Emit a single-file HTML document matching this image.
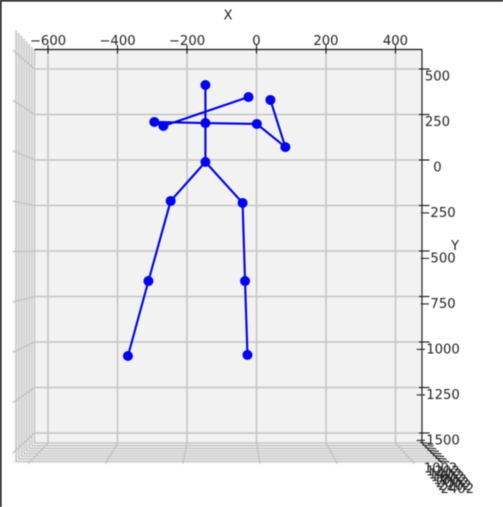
<!DOCTYPE html>
<html lang="en">
<head>
<meta charset="utf-8">
<title>3D skeleton pose chart</title>
<style>
html,body{margin:0;padding:0;background:#fff;width:503px;height:507px;overflow:hidden}
svg{display:block;filter:blur(0.45px)}
text{font-family:"DejaVu Sans","Liberation Sans",sans-serif;font-size:13.2px;fill:#222}
</style>
</head>
<body>
<svg id="chart" width="503" height="507" viewBox="0 0 503 507" xmlns="http://www.w3.org/2000/svg">
  <rect x="0" y="0" width="503" height="507" fill="#ffffff"/>
  <rect x="0" y="0" width="503" height="1.5" fill="#000"/>
  <rect x="0" y="0" width="1.5" height="507" fill="#000"/>
  <polygon points="34,50 14,29 13,464 34,443" fill="#f7f7f7"/>
  <polygon points="34,443 422,443 443,464 13,464" fill="#f6f6f6"/>
  <rect x="34" y="50" width="388" height="393" fill="#f2f2f2"/>
  <text x="228" y="19.5" text-anchor="middle">X</text>
  <text x="455" y="250" text-anchor="middle">Y</text>
  <g id="grid"></g>
  <g id="axes"></g>
  <g id="bones"></g>
  <g id="joints"></g>
</svg>
<script>
const xTicks = [-600, -400, -200, 0, 200, 400];
const yTicks = [500, 250, 0, -250, -500, -750, -1000, -1250, -1500];
const depthLabels = ['1002', '1202', '1402', '1602', '1802', '2002', '2202', '2402'];
const jointNames = ['head', 'neck', 'pelvis', 'left-hip', 'left-knee', 'left-ankle', 'right-hip', 'right-knee', 'right-ankle', 'right-shoulder', 'right-elbow', 'right-wrist', 'left-shoulder', 'left-elbow', 'left-wrist'];
const jointX = [-147, -147, -147, -247, -311, -370, -40, -33, -26, 1, 83, 40, -294, -268, -23];
const jointY = [412, 203, -11, -225, -665, -1077, -236, -665, -1071, 198, 71, 330, 209, 187, 346];
const boneFrom = [0, 1, 2, 3, 4, 2, 6, 7, 1, 9, 10, 1, 12, 13];
const boneTo = [1, 2, 3, 4, 5, 6, 7, 8, 9, 10, 11, 12, 13, 14];

const NS = 'http://www.w3.org/2000/svg';
const xScale = v => 256.5 + v * 0.3475;
const yScale = v => 160 - v * 0.182;
const fmt = v => (v < 0 ? '\u2212' + Math.abs(v) : String(v));
const LEFT = 34.5, RIGHT = 422, TOP = 49.5, BOTTOM = 443, STEP = 2.62;
const fmtName = v => String(v).replace('-', 'minus-');

function shape(parent, tag, attrs) {
  const el = document.createElementNS(NS, tag);
  Object.keys(attrs).forEach(k => el.setAttribute(k, attrs[k]));
  parent.appendChild(el);
  return el;
}
const grid = document.getElementById('grid');
const axes = document.getElementById('axes');
const bones = document.getElementById('bones');
const joints = document.getElementById('joints');
const gridStyle = { stroke: '#c4c4c4', 'stroke-width': 1.5, fill: 'none' };

depthLabels.forEach((label, i) => {
  const d = i * STEP;
  const back = shape(grid, 'polyline', Object.assign({
    points: (LEFT - d) + ',' + (TOP - d * 1.05) + ' ' + (LEFT - d) + ',' + (BOTTOM + d) + ' ' + (RIGHT + d) + ',' + (BOTTOM + d)
  }, gridStyle));
  
  

  const tick = shape(axes, 'line', {
    x1: RIGHT + d - 2, y1: BOTTOM + d - 0.5, x2: RIGHT + d + 9, y2: BOTTOM + d + 0.5,
    stroke: '#111', 'stroke-width': 1.1
  });
  
  

  const txt = shape(axes, 'text', {
    x: 440.5 + i * 2.4, y: 472.5 + i * 2.9, 'text-anchor': 'middle'
  });
  txt.textContent = label;
  
  
});

xTicks.forEach(v => {
  const x = xScale(v);
  const g = shape(grid, 'polyline', Object.assign({
    points: x + ',' + TOP + ' ' + x + ',' + BOTTOM + ' ' + (x + 0.111 * (x - 225)) + ',463.5'
  }, gridStyle));
  
  

  const tick = shape(axes, 'line', { x1: x, y1: 45, x2: x, y2: 53.5, stroke: '#111', 'stroke-width': 1.1 });
  
  

  const txt = shape(axes, 'text', { x: x, y: 45, 'text-anchor': 'middle' });
  txt.textContent = fmt(v);
  
  
});

yTicks.forEach(v => {
  const y = yScale(v);
  const g = shape(grid, 'polyline', Object.assign({
    points: RIGHT + ',' + y + ' ' + LEFT + ',' + y + ' 13,' + (y + 0.107 * (y - 246))
  }, gridStyle));
  
  

  const tick = shape(axes, 'line', { x1: 419, y1: y, x2: 429.5, y2: y, stroke: '#111', 'stroke-width': 1.1 });
  
  

  const txt = shape(axes, 'text', { x: 437.5, y: y + 11.7, 'text-anchor': 'middle' });
  txt.textContent = fmt(v);
  
  
});

const topAxis = shape(axes, 'line', { x1: LEFT, y1: TOP, x2: RIGHT + 0.5, y2: TOP, stroke: '#111', 'stroke-width': 1.2 });


const rightAxis = shape(axes, 'line', { x1: RIGHT, y1: TOP, x2: RIGHT, y2: BOTTOM, stroke: '#222', 'stroke-width': 1.2 });


const depthAxis = shape(axes, 'line', { x1: RIGHT, y1: BOTTOM, x2: RIGHT + 7 * STEP + 2, y2: BOTTOM + 7 * STEP + 2, stroke: '#222', 'stroke-width': 1.2 });



boneFrom.forEach((a, i) => {
  const b = boneTo[i];
  const bone = shape(bones, 'line', {
    x1: xScale(jointX[a]), y1: yScale(jointY[a]),
    x2: xScale(jointX[b]), y2: yScale(jointY[b]),
    stroke: '#0000e6', 'stroke-width': 2.1, 'stroke-linecap': 'round'
  });
  
  
});

jointX.forEach((v, i) => {
  const joint = shape(joints, 'circle', { cx: xScale(v), cy: yScale(jointY[i]), r: 5, fill: '#0000f5' });
  
  
});
</script>
</body>
</html>
